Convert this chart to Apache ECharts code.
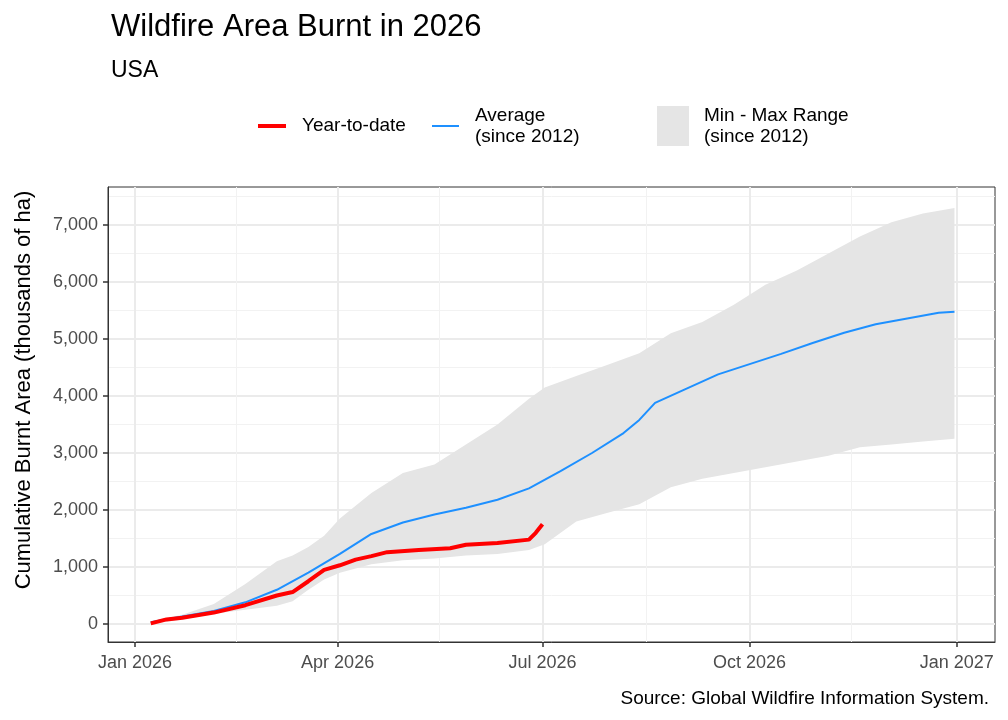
<!DOCTYPE html>
<html>
<head>
<meta charset="utf-8">
<script src="https://cdn.jsdelivr.net/npm/echarts@6/dist/echarts.min.js"></script>
<style>html,body{margin:0;padding:0;background:#fff}#et1{width:1008px;height:720px}</style>
</head>
<body>
<div id="et1"></div>
<script>
~function () {
    var myChart = echarts.init(document.getElementById('et1'));
    var font = 'Liberation Sans';
    function d(s) { return +new Date(s + 'T00:00:00Z'); }
    var months = ['Jan', 'Feb', 'Mar', 'Apr', 'May', 'Jun', 'Jul', 'Aug', 'Sep', 'Oct', 'Nov', 'Dec'];

    var bandDates = ['2026-01-08', '2026-01-22', '2026-02-05', '2026-02-19', '2026-03-05', '2026-03-12', '2026-03-19', '2026-03-26',
        '2026-04-02', '2026-04-16', '2026-04-30', '2026-05-14', '2026-05-28', '2026-06-11', '2026-06-25', '2026-07-02',
        '2026-07-16', '2026-07-30', '2026-08-13', '2026-08-27', '2026-09-10', '2026-09-24', '2026-10-08', '2026-10-22',
        '2026-11-05', '2026-11-19', '2026-12-03', '2026-12-17', '2026-12-31'];
    var maxVals = [50, 160, 350, 700, 1100, 1200, 1350, 1550, 1850, 2300, 2650, 2800, 3150, 3500, 3950, 4150,
        4350, 4550, 4750, 5100, 5300, 5600, 5950, 6200, 6500, 6800, 7050, 7200, 7300];
    var minVals = [0, 80, 180, 250, 320, 400, 600, 780, 900, 1050, 1120, 1150, 1200, 1230, 1300, 1400,
        1800, 1950, 2100, 2400, 2550, 2650, 2750, 2850, 2950, 3100, 3150, 3200, 3250];

    var avg = [['2026-01-08', 30], ['2026-01-22', 130], ['2026-02-05', 230], ['2026-02-19', 380], ['2026-03-05', 600],
        ['2026-03-19', 900], ['2026-04-02', 1230], ['2026-04-16', 1580], ['2026-04-30', 1780], ['2026-05-14', 1920],
        ['2026-05-28', 2040], ['2026-06-11', 2180], ['2026-06-25', 2380], ['2026-07-09', 2680], ['2026-07-23', 3000],
        ['2026-08-06', 3350], ['2026-08-13', 3580], ['2026-08-20', 3880], ['2026-09-03', 4130], ['2026-09-17', 4380],
        ['2026-10-01', 4560], ['2026-10-15', 4740], ['2026-10-29', 4930], ['2026-11-12', 5110], ['2026-11-26', 5260],
        ['2026-12-10', 5360], ['2026-12-24', 5460], ['2026-12-31', 5480]];
    var ytd = [['2026-01-08', 10], ['2026-01-15', 80], ['2026-01-22', 110], ['2026-02-05', 200], ['2026-02-19', 330],
        ['2026-03-05', 500], ['2026-03-12', 560], ['2026-03-19', 750], ['2026-03-26', 950], ['2026-04-02', 1030],
        ['2026-04-09', 1130], ['2026-04-16', 1190], ['2026-04-23', 1260], ['2026-05-07', 1300], ['2026-05-21', 1330],
        ['2026-05-28', 1390], ['2026-06-11', 1420], ['2026-06-25', 1480], ['2026-06-28', 1600], ['2026-07-01', 1750]];

    var xMin = d('2025-12-20'), xMax = d('2027-01-18'), yMin = -316, yMax = 7667;
    var majorX = [d('2026-01-01'), d('2026-04-01'), d('2026-07-01'), d('2026-10-01'), d('2027-01-01')];
    var minorX = [d('2026-02-15'), d('2026-05-16'), d('2026-08-16'), d('2026-11-15')];
    var majorY = [0, 1000, 2000, 3000, 4000, 5000, 6000, 7000];
    var minorY = [500, 1500, 2500, 3500, 4500, 5500, 6500, 7500];
    var hidden = {axisLine: {show: false}, axisLabel: {show: false}, axisTick: {show: false}, splitLine: {show: false}};

    var option = {
        animation: false,
        textStyle: {fontFamily: font},
        title: [
            {text: 'Wildfire Area Burnt in 2026', left: 106, top: 7, textStyle: {fontSize: 31, fontWeight: 'normal', color: '#000', fontFamily: font}},
            {text: 'USA', left: 106, top: 54, textStyle: {fontSize: 23, fontWeight: 'normal', color: '#000', fontFamily: font}},
            {text: 'Source: Global Wildfire Information System.', right: 14, top: 684, textStyle: {fontSize: 19, fontWeight: 'normal', color: '#000', fontFamily: font}}
        ],
        graphic: [
            {type: 'line', shape: {x1: 258, y1: 126, x2: 286, y2: 126}, style: {stroke: '#ff0000', lineWidth: 4}},
            {type: 'text', left: 302, top: 116, style: {text: 'Year-to-date', fontSize: 19, fill: '#000', fontFamily: font}},
            {type: 'line', shape: {x1: 432, y1: 126, x2: 459, y2: 126}, style: {stroke: '#1e90ff', lineWidth: 2}},
            {type: 'text', left: 475, top: 105, style: {text: 'Average\n(since 2012)', fontSize: 19, lineHeight: 21, fill: '#000', fontFamily: font}},
            {type: 'rect', shape: {x: 657, y: 106, width: 32, height: 40}, style: {fill: '#e5e5e5'}},
            {type: 'text', left: 704, top: 105, style: {text: 'Min - Max Range\n(since 2012)', fontSize: 19, lineHeight: 21, fill: '#000', fontFamily: font}},
            {type: 'text', x: 24, y: 390, rotation: Math.PI / 2,
                style: {text: 'Cumulative Burnt Area (thousands of ha)', fontSize: 22, fill: '#000', fontFamily: font, align: 'center', verticalAlign: 'middle'}}
        ],
        grid: {left: 108, right: 13, top: 187, bottom: 78, show: true, borderColor: '#333', borderWidth: 1},
        xAxis: [
            Object.assign({type: 'time', min: xMin, max: xMax}, hidden),
            {
                type: 'value', min: xMin, max: xMax, position: 'bottom',
                axisLine: {show: true, onZero: false, lineStyle: {color: '#333', width: 1}},
                axisTick: {show: true, customValues: majorX, length: 5, lineStyle: {color: '#333', width: 1.5}},
                axisLabel: {customValues: majorX, color: '#4d4d4d', fontSize: 18, margin: 12, fontFamily: font,
                    formatter: function (v) { var t = new Date(v); return months[t.getUTCMonth()] + ' ' + t.getUTCFullYear(); }},
                splitLine: {show: true, lineStyle: {color: '#ebebeb', width: 2}}
            },
            {
                type: 'value', min: xMin, max: xMax, position: 'bottom',
                axisLine: {show: false, onZero: false}, axisLabel: {show: false},
                axisTick: {show: false, customValues: minorX},
                splitLine: {show: true, lineStyle: {color: '#f2f2f2', width: 1}}
            }
        ],
        yAxis: [
            {
                type: 'value', min: yMin, max: yMax,
                axisLine: {show: true, onZero: false, lineStyle: {color: '#333', width: 1}},
                axisTick: {show: true, customValues: majorY, length: 5, lineStyle: {color: '#333', width: 1.5}},
                axisLabel: {customValues: majorY, color: '#4d4d4d', fontSize: 18, margin: 10, fontFamily: font,
                    formatter: function (v) { return v.toLocaleString('en-US'); }},
                splitLine: {show: true, lineStyle: {color: '#ebebeb', width: 2}}
            },
            {
                type: 'value', min: yMin, max: yMax, position: 'left',
                axisLine: {show: false, onZero: false}, axisLabel: {show: false},
                axisTick: {show: false, customValues: minorY},
                splitLine: {show: true, lineStyle: {color: '#f2f2f2', width: 1}}
            }
        ],
        series: [
            {
                name: 'min',
                type: 'line',
                stack: 'band',
                symbol: 'none',
                lineStyle: {opacity: 0},
                data: bandDates.map(function (s, i) { return [d(s), minVals[i]]; })
            },
            {
                name: 'Min - Max Range',
                type: 'line',
                stack: 'band',
                symbol: 'none',
                lineStyle: {opacity: 0},
                areaStyle: {color: '#e5e5e5', opacity: 1},
                data: bandDates.map(function (s, i) { return [d(s), maxVals[i] - minVals[i]]; })
            },
            {
                name: 'Average',
                type: 'line',
                symbol: 'none',
                lineStyle: {color: '#1e90ff', width: 2},
                data: avg.map(function (p) { return [d(p[0]), p[1]]; })
            },
            {
                name: 'Year-to-date',
                type: 'line',
                symbol: 'none',
                lineStyle: {color: '#ff0000', width: 4},
                data: ytd.map(function (p) { return [d(p[0]), p[1]]; })
            }
        ]
    };
    myChart.setOption(option);
}();
</script>
</body>
</html>
